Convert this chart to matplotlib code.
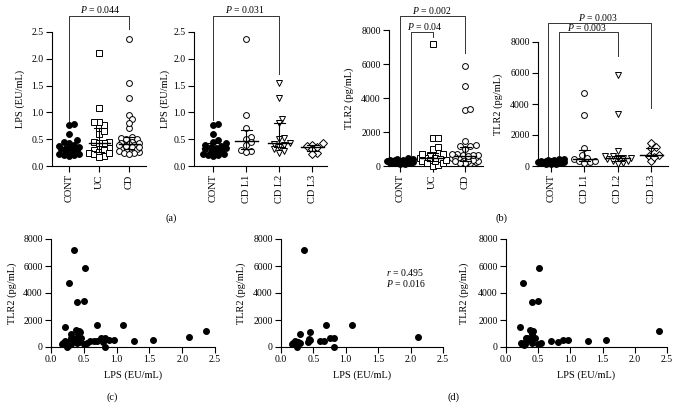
import numpy as np
import matplotlib
matplotlib.use("Agg")
import matplotlib.pyplot as plt

plt.rcParams['font.family'] = ['Liberation Serif', 'DejaVu Serif']
plt.rcParams['mathtext.fontset'] = 'custom'
plt.rcParams['mathtext.it'] = 'Liberation Serif:italic'
plt.rcParams['mathtext.rm'] = 'Liberation Serif'

# ---- data ----
cont_lps = [0.78, 0.77, 0.60, 0.48, 0.45, 0.42, 0.40, 0.38, 0.36, 0.34,
            0.33, 0.31, 0.29, 0.27, 0.25, 0.23, 0.21, 0.20, 0.19, 0.22]
cont_tlr2 = [480, 420, 400, 380, 350, 330, 310, 300, 290, 280,
             270, 250, 230, 210, 190, 170, 150, 130, 110, 350]

# UC patients (LPS, TLR2 pairs)
uc_lps = [0.35, 0.70, 1.09, 2.11, 0.30, 0.44, 0.43, 0.44, 0.60, 0.66, 0.76,
          0.82, 0.82, 0.25, 0.19, 0.22, 0.27, 0.30, 0.17, 0.42, 0.24]
uc_tlr2 = [7200, 1650, 1650, 740, 985, 1090, 620, 500, 470, 470, 690,
           690, 20, 30, 300, 420, 350, 280, 200, 380, 150]

# CD patients by location (LPS, TLR2 pairs)
l1_lps = [2.37, 0.96, 0.70, 0.55, 0.50, 0.45, 0.40, 0.30, 0.28, 0.27]
l1_tlr2 = [1160, 500, 450, 300, 250, 700, 3300, 200, 300, 4720]
l2_lps = [1.55, 1.27, 0.88, 0.80, 0.52, 0.50, 0.42, 0.41, 0.40, 0.35, 0.32, 0.28, 0.25]
l2_tlr2 = [530, 450, 500, 340, 5870, 3380, 670, 1000, 300, 540, 670, 150, 200]
l3_lps = [0.42, 0.40, 0.38, 0.31, 0.24, 0.22, 0.36]
l3_tlr2 = [1150, 670, 1230, 700, 300, 1460, 600]

cd_lps = l1_lps + l2_lps + l3_lps
cd_tlr2 = l1_tlr2 + l2_tlr2 + l3_tlr2

W, H = 680, 409
fig = plt.figure(figsize=(W / 100, H / 100), dpi=100)


def add_ax(l, r, t, b):
    return fig.add_axes([l / W, 1 - b / H, (r - l) / W, (b - t) / H])


def style(ax):
    for s in ['top', 'right']:
        ax.spines[s].set_visible(False)
    for s in ['left', 'bottom']:
        ax.spines[s].set_linewidth(0.8)
    ax.tick_params(direction='out', length=4, width=0.8, labelsize=7, pad=2)


def swarm(ax, x0, vals, d=5.2, half=0.42):
    # beeswarm in pixel space, limited to +-half category width
    pts = ax.transData.transform(np.column_stack([np.full(len(vals), x0), vals]))
    xc, ys = pts[0, 0], pts[:, 1]
    unit = ax.transData.transform([[1, 0]])[0, 0] - ax.transData.transform([[0, 0]])[0, 0]
    maxw = half * unit
    step = d * 0.5
    n = int(maxw // step)
    cands = [0.0]
    for k in range(1, n + 1):
        cands += [k * step, -k * step]
    xs = np.empty(len(vals))
    placed = []
    for i in np.argsort(ys):
        best, best_d = 0.0, -1
        for c in cands:
            x = xc + c
            md = min([np.hypot(x - px, ys[i] - py) for px, py in placed] + [99])
            if md >= 0.9 * d:
                best = c
                break
            if md > best_d:
                best, best_d = c, md
        placed.append((xc + best, ys[i]))
        xs[i] = xc + best
    return ax.transData.inverted().transform(np.column_stack([xs, ys]))[:, 0]


def group(ax, x0, vals, marker, fc, ms=4.2):
    xs = swarm(ax, x0, vals)
    ax.plot(xs, vals, ls='none', marker=marker, ms=ms, mfc=fc, mec='k',
            mew=0.7, clip_on=False, zorder=3)
    q1, med, q3 = np.percentile(vals, [25, 50, 75])
    ax.plot([x0 - 0.35, x0 + 0.35], [med, med], color='k', lw=1, zorder=4)
    ax.plot([x0, x0], [q1, q3], color='k', lw=0.8, zorder=4)
    for q in (q1, q3):
        ax.plot([x0 - 0.17, x0 + 0.17], [q, q], color='k', lw=0.8, zorder=4)


def bracket(ax, x1, x2, y, y1, y2):
    ax.plot([x1, x1, x2, x2], [y1, y, y, y2], color='#333333', lw=0.7, clip_on=False)


def cat_axes(ax, labels, ylabel, yticks, fmt, lab_x):
    style(ax)
    ax.set_xticks(range(len(labels)))
    ax.set_xticklabels(labels, rotation=90, fontsize=7.5, va='top')
    ax.set_yticks(yticks)
    ax.set_yticklabels([fmt.format(v) for v in yticks])
    ax.set_ylabel(ylabel, fontsize=7.5)
    ax.yaxis.set_label_coords(lab_x, 0.5)


# ---- (a) left ----
ax = add_ax(52, 145.5, 32, 166)
ax.set_xlim(-0.57, 2.55)
ax.set_ylim(0, 2.5)
cat_axes(ax, ['CONT', 'UC', 'CD'], 'LPS (EU/mL)', np.arange(0, 2.51, 0.5), '{:.1f}', -0.29)
group(ax, 0, cont_lps, 'o', 'k')
group(ax, 1, uc_lps, 's', 'w')
group(ax, 2, cd_lps, 'o', 'w')
bracket(ax, 0, 2, 2.80, 0.82, 2.56)
ax.text(1.03, 2.81, '$P$ = 0.044', ha='center', va='bottom', fontsize=7)

# ---- (a) right ----
ax = add_ax(194, 327, 32, 166)
ax.set_xlim(-0.58, 3.45)
ax.set_ylim(0, 2.5)
cat_axes(ax, ['CONT', 'CD L1', 'CD L2', 'CD L3'], 'LPS (EU/mL)',
         np.arange(0, 2.51, 0.5), '{:.1f}', -0.18)
group(ax, 0, cont_lps, 'o', 'k')
group(ax, 1, l1_lps, 'o', 'w')
group(ax, 2, l2_lps, 'v', 'w')
group(ax, 3, l3_lps, 'D', 'w', ms=3.6)
bracket(ax, 0, 2, 2.80, 0.86, 1.72)
ax.text(0.97, 2.81, '$P$ = 0.031', ha='center', va='bottom', fontsize=7)

# ---- (b) left ----
ax = add_ax(389, 483, 30, 166)
ax.set_xlim(-0.34, 2.55)
ax.set_ylim(0, 8000)
cat_axes(ax, ['CONT', 'UC', 'CD'], 'TLR2 (pg/mL)', np.arange(0, 8001, 2000), '{:d}', -0.37)
group(ax, 0, cont_tlr2, 'o', 'k')
group(ax, 1, uc_tlr2, 's', 'w')
group(ax, 2, cd_tlr2, 'o', 'w')
bracket(ax, 0, 2, 8820, 530, 6650)
ax.text(0.98, 8850, '$P$ = 0.002', ha='center', va='bottom', fontsize=7)
bracket(ax, 0.34, 1, 7880, 530, 7585)
ax.text(0.77, 7910, '$P$ = 0.04', ha='center', va='bottom', fontsize=7)

# ---- (b) right ----
ax = add_ax(538, 668, 42, 166)
ax.set_xlim(-0.39, 3.5)
ax.set_ylim(0, 8000)
cat_axes(ax, ['CONT', 'CD L1', 'CD L2', 'CD L3'], 'TLR2 (pg/mL)',
         np.arange(0, 8001, 2000), '{:d}', -0.27)
group(ax, 0, cont_tlr2, 'o', 'k')
group(ax, 1, l1_tlr2, 'o', 'w')
group(ax, 2, l2_tlr2, 'v', 'w')
group(ax, 3, l3_tlr2, 'D', 'w', ms=3.6)
bracket(ax, -0.09, 3, 9220, 520, 3740)
ax.text(1.4, 9610, '$P$ = 0.003', ha='center', va='center', fontsize=7)
bracket(ax, 0.24, 2, 8640, 520, 7100)
ax.text(1.07, 8965, '$P$ = 0.003', ha='center', va='center', fontsize=7)

# ---- scatter panels ----
scatter_sets = [
    ((51, 215), uc_lps + cd_lps, uc_tlr2 + cd_tlr2, -0.21),
    ((281, 443), uc_lps, uc_tlr2, -0.216),
    ((506, 667), cd_lps, cd_tlr2, -0.23),
]
sc_axes = []
for (l, r), xv, yv, lx in scatter_sets:
    ax = add_ax(l, r, 239, 347)
    style(ax)
    ax.set_xlim(0, 2.5)
    ax.set_ylim(0, 8000)
    ax.set_xticks(np.arange(0, 2.51, 0.5))
    ax.set_xticklabels(['{:.1f}'.format(v) for v in np.arange(0, 2.51, 0.5)])
    ax.set_yticks(np.arange(0, 8001, 2000))
    ax.plot(xv, yv, ls='none', marker='o', ms=4, color='k', clip_on=False)
    ax.set_xlabel('LPS (EU/mL)', fontsize=7.5)
    ax.xaxis.set_label_coords(0.5, -0.22)
    ax.set_ylabel('TLR2 (pg/mL)', fontsize=7.5)
    ax.yaxis.set_label_coords(lx, 0.5)
    sc_axes.append(ax)

sc_axes[1].text(1.62, 5555, '$r$ = 0.495', ha='left', va='center', fontsize=7)
sc_axes[1].text(1.62, 4667, '$P$ = 0.016', ha='left', va='center', fontsize=7)

# panel letters
for s, x, y in [('(a)', 171, 218), ('(b)', 502, 218), ('(c)', 112, 397), ('(d)', 453, 397)]:
    fig.text(x / W, 1 - y / H, s, ha='center', va='center', fontsize=7.5)

fig.savefig('out.png', dpi=100)
